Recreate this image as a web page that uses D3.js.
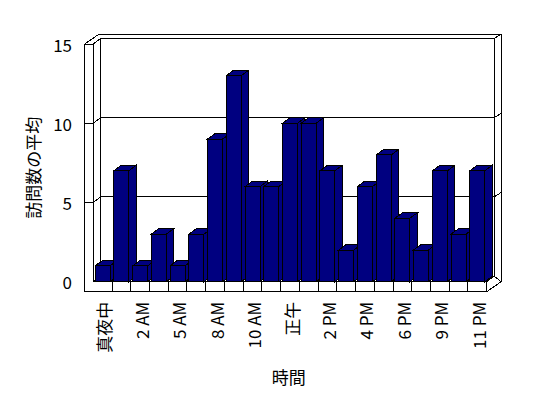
<!DOCTYPE html>
<html>
<head>
<meta charset="utf-8">
<script src="https://cdn.jsdelivr.net/npm/d3@7"></script>
<style>
  body { margin: 0; background: #fff; }
  svg { display: block; }
  text { font-family: "Noto Sans CJK JP", "DejaVu Sans", sans-serif; font-size: 17px; fill: #000; }
</style>
</head>
<body>
<div id="chart"></div>
<script>
// data
var categories = ["真夜中", "1 AM", "2 AM", "4 AM", "5 AM", "7 AM", "8 AM", "9 AM", "10 AM", "11 AM",
  "正午", "1 PM", "2 PM", "3 PM", "4 PM", "5 PM", "6 PM", "8 PM", "9 PM", "10 PM", "11 PM"];
var visits = [1, 7, 1, 3, 1, 3, 9, 13, 6, 6, 10, 10, 7, 2, 6, 8, 4, 2, 7, 3, 7];
var yTicks = [0, 5, 10, 15];
var yTitle = "訪問数の平均";
var xTitle = "時間";

//Config
var W = 548, H = 398;
var barColor = "#000080";
var left = 93.3, right = 486.7;   // inner front plane
var bottom = 281.7;               // floor top, front
var wallT = 8.6;                  // left wall thickness
var floorT = 10;                  // floor thickness
var D = {x: 7.4, y: -5.5};        // depth of plot (front -> back wall face)
var T = {x: 7.1, y: -4.5};        // back wall thickness

var svg = d3.select("#chart").append("svg")
  .attr("width", W).attr("height", H);

var x = d3.scaleBand().domain(categories).range([left, right])
  .paddingInner(0.2).paddingOuter(0.1);
var y = d3.scaleLinear().domain([0, 15]).range([bottom, 44]);

var yTop = y(15);
var frame = svg.append("g")
  .attr("fill", "none").attr("stroke", "#000").attr("stroke-width", 1)
  .attr("shape-rendering", "crispEdges");

function line(g, pts) {
  g.append("path").attr("d", d3.line()(pts));
}
function poly(g, pts, fill) {
  return g.append("path").attr("d", d3.line()(pts) + "Z").attr("fill", fill);
}

// walls (white faces)
var L0 = left - wallT;
var backL = left + D.x, backR = right + D.x;
var outX = T.x + D.x, outY = T.y + D.y;
poly(frame, [[backL, yTop + D.y], [backR, yTop + D.y], [backR, bottom + D.y], [backL, bottom + D.y]], "#fff");

// gridlines
yTicks.filter(function(v) { return v > 0 && v < 15; }).forEach(function(v) {
  var yy = y(v);
  line(frame, [[L0, yy], [left, yy], [backL, yy + D.y], [backR, yy + D.y], [backR + T.x, yy + D.y + T.y]]);
});

// outer frame lines
line(frame, [[L0, bottom + floorT], [L0, yTop], [left, yTop], [left, bottom]]);
line(frame, [[L0, yTop], [L0 + outX, yTop + outY], [backR + T.x, yTop + outY], [backR + T.x, bottom + floorT + outY]]);
line(frame, [[left, yTop], [backL, yTop + D.y], [backR, yTop + D.y], [backR + T.x, yTop + outY]]);
line(frame, [[backL, yTop + D.y], [backL, bottom + D.y]]);
line(frame, [[backR, yTop + D.y], [backR, bottom + D.y]]);

// floor
poly(frame, [[left, bottom], [right, bottom], [backR, bottom + D.y], [backL, bottom + D.y]], "#fff");
poly(frame, [[right, bottom], [backR, bottom + D.y], [backR + T.x, bottom + floorT + outY], [right, bottom + floorT]], "#fff");
line(frame, [[L0, bottom + floorT], [right, bottom + floorT], [right, bottom]]);
d3.range(1, categories.length).forEach(function(i) {
  var xx = left + i * x.step();
  line(frame, [[xx, bottom], [xx, bottom + floorT]]);
});

// bars
var bars = svg.append("g")
  .attr("stroke", "#000").attr("stroke-width", 1)
  .attr("fill", barColor).attr("shape-rendering", "crispEdges")
  .selectAll(".bar")
  .data(visits)
  .enter()
  .append("g")
  .attr("class", "bar");

bars.append("path").attr("d", function(d, i) {
  var x0 = x(categories[i]), x1 = x0 + x.bandwidth(), yt = y(d);
  return d3.line()([[x1, yt], [x1 + D.x, yt + D.y], [x1 + D.x, bottom + D.y], [x1, bottom]]) + "Z";
});
bars.append("path").attr("d", function(d, i) {
  var x0 = x(categories[i]), x1 = x0 + x.bandwidth(), yt = y(d);
  return d3.line()([[x0, yt], [x0 + D.x, yt + D.y], [x1 + D.x, yt + D.y], [x1, yt]]) + "Z";
});
bars.append("rect")
  .attr("x", function(d, i) { return x(categories[i]); })
  .attr("y", function(d) { return y(d); })
  .attr("width", x.bandwidth())
  .attr("height", function(d) { return bottom - y(d); });

// y axis labels
svg.append("g").selectAll("text")
  .data(yTicks)
  .enter()
  .append("text")
  .attr("x", 72)
  .attr("y", function(d) { return y(d); })
  .attr("text-anchor", "end")
  .attr("dominant-baseline", "central")
  .text(function(d) { return d; });

// x axis labels (every other category)
svg.append("g").selectAll("text")
  .data(categories.filter(function(c, i) { return i % 2 == 0; }))
  .enter()
  .append("text")
  .attr("transform", function(d) {
    return "translate(" + (x(d) + x.bandwidth() / 2 + 1) + "," + (bottom + floorT + 10) + ") rotate(-90)";
  })
  .attr("text-anchor", "end")
  .attr("dominant-baseline", "central")
  .text(function(d) { return d; });

// titles
svg.append("text")
  .attr("transform", "translate(32," + ((yTop + bottom + floorT) / 2) + ") rotate(-90)")
  .attr("text-anchor", "middle")
  .attr("dominant-baseline", "central")
  .text(yTitle);

svg.append("text")
  .attr("x", (L0 + right) / 2 + 3)
  .attr("y", 376)
  .attr("text-anchor", "middle")
  .attr("dominant-baseline", "central")
  .text(xTitle);
</script>
</body>
</html>
